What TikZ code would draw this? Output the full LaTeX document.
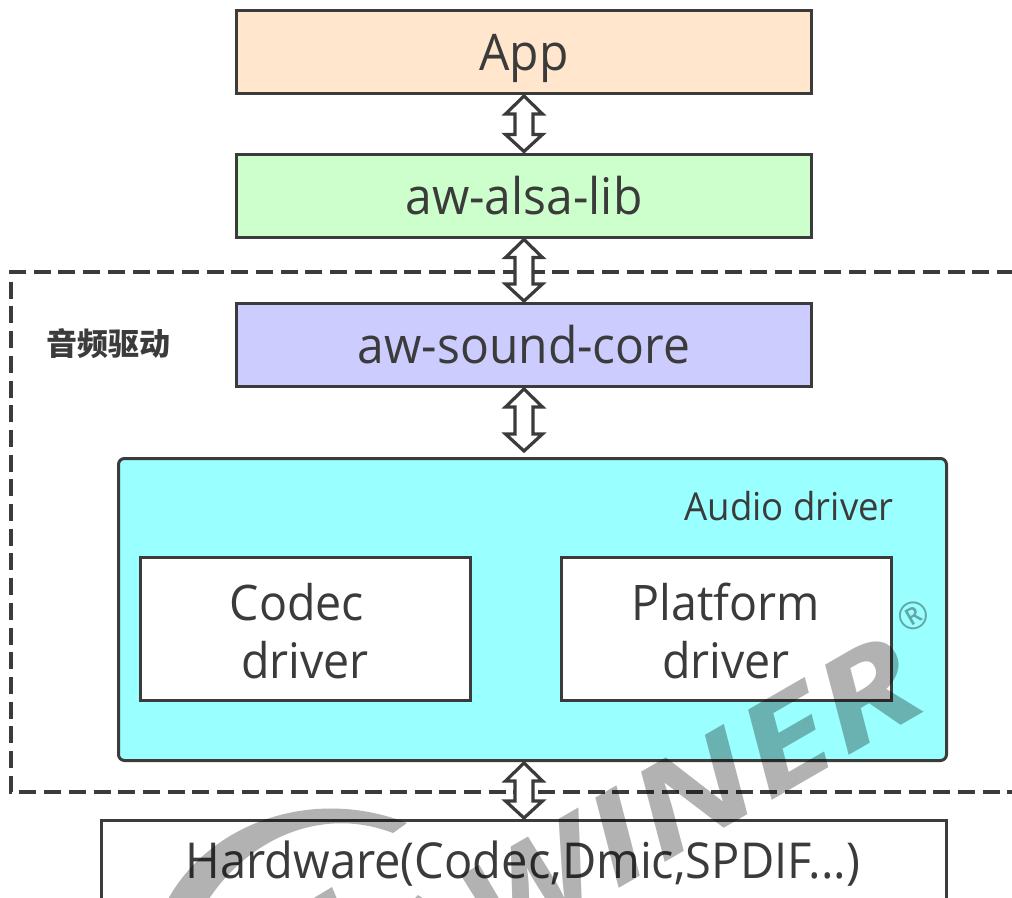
\documentclass[tikz,border=0pt]{standalone}
\usepackage{fontspec}
\setmainfont[FakeStretch=0.95]{Open Sans}
\newfontfamily\wmfont{Open Sans}
\newfontfamily\cjk{Noto Sans CJK SC}
\usetikzlibrary{calc}
\definecolor{ink}{HTML}{3B3B3B}
\definecolor{peach}{HTML}{FFE6CC}
\definecolor{mint}{HTML}{CCFFCC}
\definecolor{lav}{HTML}{CCCCFF}
\definecolor{aqua}{HTML}{99FFFF}
\newcommand{\lbl}[1]{\fontsize{#1}{#1}\selectfont}
\newcommand{\dblarrow}[2]{%
  \draw[arrowline] ($(#1)+(0,1)$) -- ++(18.5,18) -- ++(-9.5,0) -- ($(#2)+(9,-18)$) -- ++(9.5,0) -- ($(#2)+(0,-1)$)
    -- ++(-18.5,-17) -- ++(9.5,0) -- ($(#1)+(-9,19)$) -- ++(-9.5,0) -- cycle;}
\tikzset{
  x=1pt,y=-1pt,
  layer/.style={draw=ink,line width=3pt,text=ink,minimum width=575pt,minimum height=83pt,inner sep=0pt,text height=37pt,text depth=0pt,font=\lbl{50.5}},
  inner/.style={draw=ink,line width=3pt,fill=white,text=ink,minimum width=330pt,minimum height=143pt,inner sep=0pt,align=center,font=\lbl{49}},
  arrowline/.style={draw=ink,fill=white,line width=3.2pt,line join=miter},
  frame/.style={draw=ink,line width=3.2pt,dash pattern=on 17pt off 7.7pt},
  wm/.style={blend mode=multiply,text=black!30,inner sep=0pt},
  wmshape/.style={blend mode=multiply,fill=black!30}
}
\begin{document}
\begin{tikzpicture}
\useasboundingbox (0,0) rectangle (1012,897);
\clip (0,0) rectangle (1012,897);
\fill[white] (0,0) rectangle (1012,897);
\node[layer,fill=peach,anchor=north west] (app) at (235,9) {App};
\node[layer,fill=mint,anchor=north west] (lib) at (235,152.5) {aw-alsa-lib};
\node[layer,fill=lav,anchor=north west] (core) at (235,302) {aw-sound-core};
\node[draw=ink,line width=3pt,fill=aqua,rounded corners=6pt,minimum width=828pt,minimum height=302pt,inner sep=0pt,anchor=north west] (audio) at (117,457) {};
\node[text=ink,font=\lbl{38.5},anchor=base east,inner sep=0pt] (audiolbl) at (894,520) {Audio driver};
\node[inner,anchor=north west] (codec) at (139,555.5) {};
\node[text=ink,font=\lbl{49},anchor=base,inner sep=0pt] (c1) at (297,620) {Codec};
\node[text=ink,font=\lbl{49},anchor=base,inner sep=0pt] (c2) at (305,678) {driver};
\node[inner,anchor=north west] (plat) at (560,555.5) {};
\node[text=ink,font=\lbl{49},anchor=base,inner sep=0pt] (p1) at (726,620) {Platform};
\node[text=ink,font=\lbl{49},anchor=base,inner sep=0pt] (p2) at (726,678) {driver};
\node[draw=ink,line width=3pt,fill=white,text=ink,minimum width=845pt,minimum height=90pt,inner sep=0pt,anchor=north west] (hw) at (100,819) {};
\node[text=ink,font=\lbl{49.5},anchor=base,inner sep=0pt] (hwlbl) at (523,878) {Hardware(Codec,Dmic,SPDIF...)};
\coordinate (ftl) at (11,272);
\coordinate (ftr) at (1014,272);
\coordinate (fbl) at (11,792);
\coordinate (fbr) at (1014,792);
\draw[frame] (ftr) -- (ftl) -- (fbl) -- (fbr);
\node[text=ink,font={\cjk\bfseries\lbl{31}},anchor=center,inner sep=0pt] (cn) at (108,344) {音频驱动};
\dblarrow{app.south}{lib.north}
\dblarrow{lib.south}{core.north}
\dblarrow{core.south}{$(audio.north -| core.south)+(0,-5)$}
\dblarrow{audio.south -| core.south}{hw.north -| core.south}
\node[wm,rotate=30,xscale=1.3,font={\wmfont\bfseries\itshape\lbl{126}},anchor=base east] (wmk) at (932,708) {INER};
\node[wm,rotate=30,xscale=1.2,font={\wmfont\bfseries\itshape\lbl{126}},anchor=base east] (wmw) at (612,893) {W};
\fill[wmshape] (165,905) .. controls (205,825) and (310,785) .. (407,823) -- (393,833) .. controls (320,805) and (245,840) .. (205,905) -- cycle;
\fill[wmshape] (332,887) -- (312,899) -- (337,899) -- cycle;
\fill[wmshape] (418,895) -- (414,899) -- (424,899) -- cycle;
\node[wm,text=black!35,font={\wmfont\lbl{38}},rotate=30,anchor=center] (reg) at (913,616) {®};
\end{tikzpicture}
\end{document}
